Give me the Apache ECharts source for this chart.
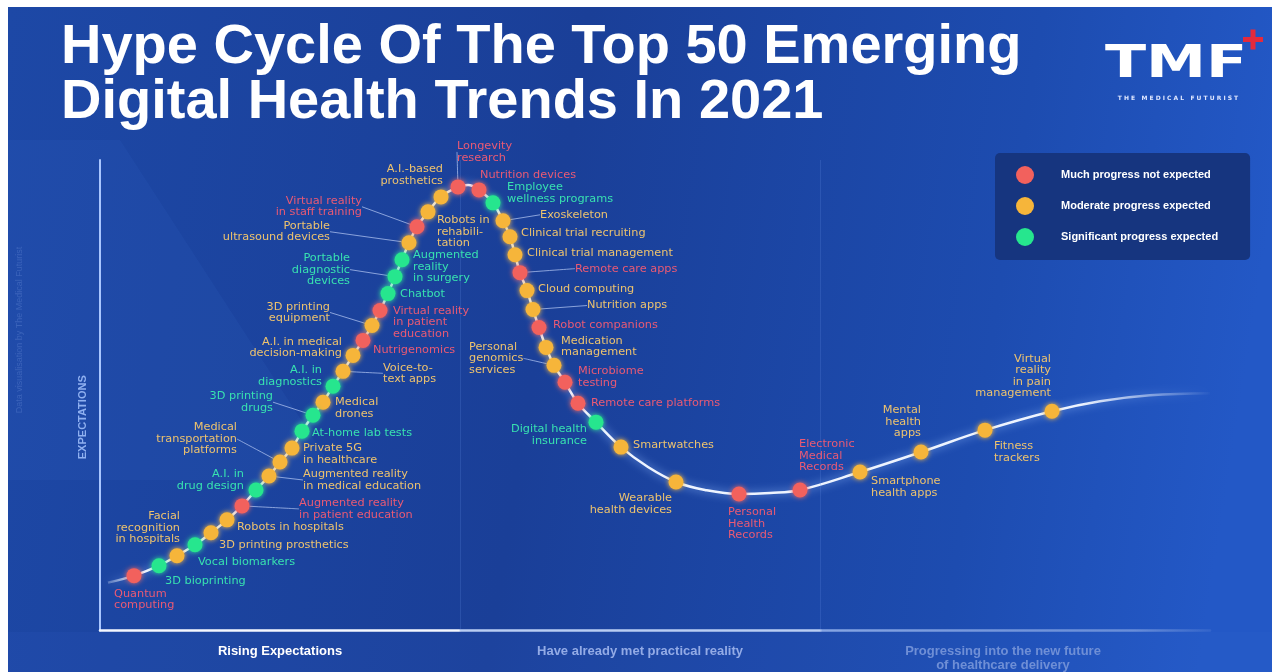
<!DOCTYPE html>
<html><head><meta charset="utf-8">
<script src="https://cdn.jsdelivr.net/npm/echarts@6/dist/echarts.min.js"></script>
<style>html,body{margin:0;padding:0;background:#fff;} #c{width:1272px;height:672px;}</style>
</head><body><div id="c"></div>
<script>
// ---------------- data ----------------
const trendNames = [
 'Quantum\ncomputing','3D bioprinting','Facial\nrecognition\nin hospitals','Vocal biomarkers','3D printing prosthetics',
 'Robots in hospitals','Augmented reality\nin patient education','A.I. in\ndrug design','Augmented reality\nin medical education','Medical\ntransportation\nplatforms',
 'Private 5G\nin healthcare','At-home lab tests','3D printing\ndrugs','Medical\ndrones','A.I. in\ndiagnostics',
 'Voice-to-\ntext apps','A.I. in medical\ndecision-making','Nutrigenomics','3D printing\nequipment','Virtual reality\nin patient\neducation',
 'Chatbot','Portable\ndiagnostic\ndevices','Augmented\nreality\nin surgery','Portable\nultrasound devices','Virtual reality\nin staff training',
 'Robots in\nrehabili-\ntation','A.I.-based\nprosthetics','Longevity\nresearch','Nutrition devices','Employee\nwellness programs',
 'Exoskeleton','Clinical trial recruiting','Clinical trial management','Remote care apps','Cloud computing',
 'Nutrition apps','Robot companions','Medication\nmanagement','Personal\ngenomics\nservices','Microbiome\ntesting',
 'Remote care platforms','Digital health\ninsurance','Smartwatches','Wearable\nhealth devices','Personal\nHealth\nRecords',
 'Electronic\nMedical\nRecords','Smartphone\nhealth apps','Mental\nhealth\napps','Fitness\ntrackers','Virtual\nreality\nin pain\nmanagement'
];
const progress = [3.4,5.9,7.7,9.5,11.1,12.7,14.2,15.6,16.9,18.0,19.2,20.2,21.3,22.3,23.3,24.3,25.3,26.3,27.2,28.0,
 28.8,29.5,30.2,30.9,31.7,32.8,34.1,35.8,37.9,39.3,40.3,41.0,41.5,42.0,42.7,43.3,43.9,44.6,45.4,46.5,
 47.8,49.6,52.1,57.6,63.9,70.0,76.0,82.1,88.5,95.2];
const expectation = [11.0,13.0,15.0,17.2,19.6,22.2,25.0,28.2,31.0,33.8,36.6,40.0,43.2,45.8,49.0,52.0,55.2,58.2,61.2,64.2,
 67.6,71.0,74.4,77.8,81.0,84.0,87.0,89.0,88.4,85.8,82.2,79.0,75.4,71.8,68.2,64.4,60.8,56.8,53.2,49.8,
 45.6,41.8,36.8,29.8,27.4,28.2,31.8,35.8,40.2,44.0];
// 0 = much progress not expected, 1 = moderate, 2 = significant
const status = [0,2,1,2,1,1,0,2,1,1,1,2,2,1,2,1,1,0,1,0,
 2,2,2,1,0,1,1,0,0,2,1,1,1,0,1,1,0,1,1,0,
 0,2,1,1,0,0,1,1,1,1];
const statusNames = ['Much progress not expected','Moderate progress expected','Significant progress expected'];
// extra points of the hype curve itself
const curveExtraX = [0.8,36.8,54.8,60.5,67.0,100.0,105.0,111.0];
const curveExtraY = [9.6,89.4,32.8,28.2,27.6,46.0,47.2,47.6];
const sectionNames = ['Rising Expectations','Have already met practical reality','Progressing into the new future\nof healthcare delivery'];
const sectionCenters = [18, 54, 90.3];
const dividerX = [36, 72];

// ---------------- styling / layout ----------------
const statusColors = ['#f2615d','#f6b53a','#26e68e'];
const labelColors = ['#ea5a74','#eec36e','#38e2b0'];
// label offset from dot [dx, dy], alignment, leader line
const labelPlace = [
 [-20,24,'left',0],[6,15,'left',0],[3,-28,'right',0],[3,17,'left',0],[8,12,'left',0],
 [10,7,'left',0],[57,3,'left',1],[-12,-10,'right',0],[34,4,'left',1],[-43,-23,'right',1],
 [11,6,'left',0],[10,2,'left',0],[-40,-13,'right',1],[12,6,'left',0],[-11,-10,'right',0],
 [40,2,'left',1],[-11,-8,'right',0],[10,10,'left',0],[-42,-13,'right',1],[13,12,'left',0],
 [12,0,'left',0],[-45,-7,'right',1],[11,7,'left',0],[-79,-11,'right',1],[-55,-20,'right',1],
 [9,20,'left',0],[2,-22,'right',0],[-1,-35,'left',1],[1,-15,'left',0],[14,-10,'left',0],
 [37,-6,'left',1],[11,-4,'left',0],[12,-2,'left',0],[55,-4,'left',1],[11,-2,'left',0],
 [54,-4,'left',1],[14,-2,'left',0],[15,-1,'left',0],[-85,-7,'left',1],[13,-5,'left',0],
 [13,0,'left',0],[-9,13,'right',0],[12,-2,'left',0],[-4,22,'right',0],[-11,30,'left',0],
 [-1,-34,'left',0],[11,15,'left',0],[0,-30,'right',0],[9,22,'left',0],[-1,-35,'right',0]
];

const curvePts = progress.map((x,i)=>[x, expectation[i]])
  .concat(curveExtraX.map((x,i)=>[x, curveExtraY[i]]))
  .sort((a,b)=>a[0]-b[0]);

const G = echarts.graphic;
const chart = echarts.init(document.getElementById('c'));

const scatterSeries = statusNames.map((nm, s) => ({
  type: 'scatter', name: nm, symbolSize: 15, z: 6,
  itemStyle: {color: statusColors[s], opacity: 1, shadowBlur: 5, shadowColor: statusColors[s]},
  emphasis: {disabled: true},
  label: {show: true, position: 'inside', formatter: '{b}', color: labelColors[s],
    fontSize: 11.3, lineHeight: 11.5, fontFamily: 'DejaVu Sans', verticalAlign: 'middle',
    textBorderWidth: 0},
  labelLine: {show: false, smooth: 0.3, lineStyle: {color: 'rgba(175,195,240,0.75)', width: 1}},
  data: status.map((st,i)=>({st,i})).filter(o=>o.st===s).map(({i}) => {
    const p = labelPlace[i];
    return {name: trendNames[i], value: [progress[i], expectation[i]],
      label: {offset: [p[0], p[1]], align: p[2]},
      labelLine: {show: !!p[3]}};
  })
}));

const option = {
  animation: false,
  backgroundColor: '#ffffff',
  grid: {left: 100, top: 160, width: 1110, height: 472, containLabel: false},
  xAxis: {
    type: 'value', min: 0, max: 111,
    axisLine: {show: true, lineStyle: {width: 2.5, color: new G.LinearGradient(0,0,1,0,[
      {offset:0, color:'#f4f7ff'},{offset:0.324, color:'#f4f7ff'},
      {offset:0.326, color:'#b9cdf3'},{offset:0.648, color:'#b9cdf3'},
      {offset:0.65, color:'#86a5e3'},{offset:0.93, color:'rgba(134,165,227,0.7)'},
      {offset:1, color:'rgba(134,165,227,0.15)'}])}},
    axisTick: {show: false}, splitLine: {show: false},
    axisLabel: {
      customValues: sectionCenters, margin: 14, interval: 0,
      formatter: v => {
        const k = sectionCenters.indexOf(v);
        return sectionNames[k].split('\n').map(t => '{s' + k + '|' + t + '}').join('\n');
      },
      rich: {
        s0: {color: '#ffffff', fontWeight: 'bold', fontSize: 13, fontFamily: 'Liberation Sans', lineHeight: 14},
        s1: {color: '#93abe6', fontWeight: 'bold', fontSize: 13, fontFamily: 'Liberation Sans', lineHeight: 14},
        s2: {color: '#6f8fd6', fontWeight: 'bold', fontSize: 13, fontFamily: 'Liberation Sans', lineHeight: 14}
      }
    }
  },
  yAxis: {
    type: 'value', min: 0, max: 94.4,
    axisLine: {show: true, lineStyle: {width: 2, color: '#a9c6ff'}},
    axisTick: {show: false}, splitLine: {show: false}, axisLabel: {show: false},
    name: 'EXPECTATIONS', nameLocation: 'middle', nameGap: 12, nameRotate: 90,
    nameTextStyle: {color: '#8fb0f0', fontWeight: 'bold', fontSize: 11, fontFamily: 'Liberation Sans', padding: [0, 44, 0, 0]}
  },
  legend: {
    orient: 'vertical', left: 995, top: 153,
    padding: [13, 32, 14, 21], itemWidth: 18, itemHeight: 18, itemGap: 13,
    backgroundColor: '#16357f', borderRadius: 5, icon: 'circle',
    itemStyle: {opacity: 1, shadowBlur: 0},
    inactiveColor: '#ccc',
    textStyle: {color: '#ffffff', fontWeight: 'bold', fontSize: 11, fontFamily: 'Liberation Sans', padding: [0,0,0,22]},
    data: statusNames.map((n, s) => ({name: n, itemStyle: {color: statusColors[s], opacity: 1, shadowBlur: 0}})),
    selectedMode: false
  },
  graphic: [
    {type: 'rect', z: -100, silent: true, shape: {x: 8, y: 7, width: 1264, height: 665},
      style: {fill: new G.LinearGradient(0,0,1,0.3,[
        {offset:0, color:'#1d48a6'},{offset:0.45, color:'#1a3f98'},
        {offset:0.8, color:'#1d4cb0'},{offset:1, color:'#2358c6'}])}},
    {type: 'polygon', z: -99, silent: true, shape: {points: [[8,140],[120,140],[340,480],[8,480]]},
      style: {fill: 'rgba(90,150,255,0.06)'}},
    {type: 'polygon', z: -99, silent: true, shape: {points: [[8,632],[1272,632],[1272,672],[8,672]]},
      style: {fill: 'rgba(60,110,220,0.10)'}},
    {type: 'text', z: 100, silent: true, style: {text: 'Hype Cycle Of The Top 50 Emerging', x: 61, y: 48,
      fill: '#ffffff', font: 'bold 56px "Liberation Sans"', verticalAlign: 'middle'}},
    {type: 'text', z: 100, silent: true, style: {text: 'Digital Health Trends In 2021', x: 61, y: 103,
      fill: '#ffffff', font: 'bold 56px "Liberation Sans"', verticalAlign: 'middle'}},
    {type: 'text', z: 100, silent: true, x: 1105, y: 66, scaleX: 1.37, scaleY: 1,
      style: {text: 'TMF', x: 0, y: 0, fill: '#ffffff', font: 'bold 44px "DejaVu Sans"', verticalAlign: 'middle'}},
    {type: 'rect', z: 100, silent: true, shape: {x: 1243, y: 37, width: 20, height: 5}, style: {fill: '#e42a3c'}},
    {type: 'rect', z: 100, silent: true, shape: {x: 1250.5, y: 29.5, width: 5, height: 20}, style: {fill: '#e42a3c'}},
    {type: 'text', z: 100, silent: true, style: {text: 'T H E   M E D I C A L   F U T U R I S T', x: 1178, y: 98,
      fill: '#dfe7ff', font: 'bold 6px "DejaVu Sans"', align: 'center', verticalAlign: 'middle'}},
    {type: 'text', z: 100, silent: true, x: 20, y: 330, rotation: Math.PI/2,
      style: {text: 'Data visualisation by The Medical Futurist', x: 0, y: 0, fill: 'rgba(130,160,230,0.28)',
        font: '9px "Liberation Sans"', align: 'center', verticalAlign: 'middle'}}
  ],
  series: [
    {type: 'line', name: 'curve', data: curvePts, symbol: 'none', smooth: 0.4, z: 3, silent: true,
      lineStyle: {width: 2.5, shadowBlur: 8, shadowColor: 'rgba(150,190,255,0.9)',
        color: new G.LinearGradient(0,0,1,0,[
          {offset:0, color:'rgba(235,242,255,0.2)'},{offset:0.03, color:'#eef4ff'},
          {offset:0.88, color:'#eef4ff'},{offset:1, color:'rgba(235,242,255,0)'}])},
      markLine: {silent: true, symbol: 'none', label: {show: false},
        lineStyle: {color: 'rgba(110,150,235,0.2)', type: 'solid', width: 1},
        data: dividerX.map(x => ({xAxis: x}))}
    }
  ].concat(scatterSeries)
};
chart.setOption(option);
</script></body></html>
